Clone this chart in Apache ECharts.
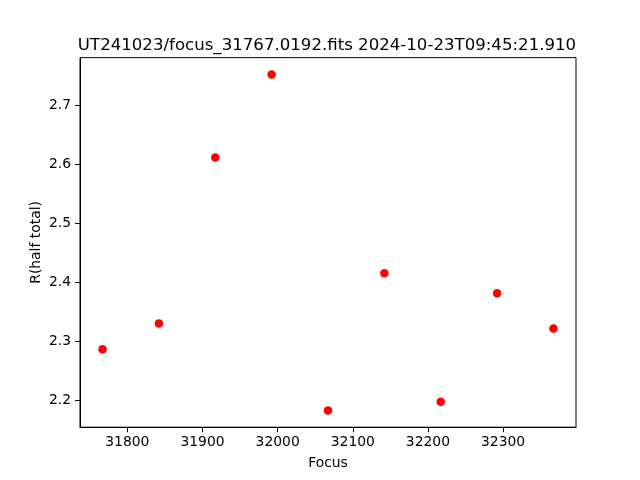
<!DOCTYPE html>
<html>
<head>
<meta charset="utf-8">
<script src="https://cdn.jsdelivr.net/npm/echarts@6/dist/echarts.min.js"></script>
<style>html,body{margin:0;padding:0;background:#fff}#c{width:640px;height:480px}</style>
</head>
<body>
<div id="c"></div>
<script>
const focusValues = [31767, 31842, 31917, 31992, 32067, 32142, 32217, 32292, 32367];
const radiusValues = [2.286, 2.330, 2.611, 2.752, 2.1825, 2.415, 2.197, 2.381, 2.3215];
const xTicks = [31800, 31900, 32000, 32100, 32200, 32300];
const yTicks = [2.2, 2.3, 2.4, 2.5, 2.6, 2.7];
const titleText = 'UT241023/focus_31767.0192.fits 2024-10-23T09:45:21.910';

function padRange(arr) {
  const lo = Math.min(...arr), hi = Math.max(...arr), r = hi - lo;
  return [lo - 0.05 * r, hi + 0.05 * r];
}
const xr = padRange(focusValues), yr = padRange(radiusValues);
const font = 'DejaVu Sans';
const chart = echarts.init(document.getElementById('c'), null, {renderer: 'canvas'});
chart.setOption({
  animation: false,
  backgroundColor: '#fff',
  title: {
    text: titleText, left: 322, top: 32, textAlign: 'center',
    textStyle: {fontFamily: font, fontSize: 16.6, fontWeight: 'normal', color: '#000'}
  },
  grid: {left: 80, right: 64, top: 57.6, bottom: 52.8, show: true, borderColor: '#000', borderWidth: 1, backgroundColor: 'transparent'},
  xAxis: {
    type: 'value', min: xr[0], max: xr[1],
    name: 'Focus', nameLocation: 'middle', nameGap: 29,
    nameTextStyle: {fontFamily: font, fontSize: 13.9, color: '#000'},
    axisLine: {show: true, lineStyle: {color: '#000', width: 1}},
    axisTick: {show: true, inside: false, length: 5, lineStyle: {color: '#000', width: 1}, customValues: xTicks},
    axisLabel: {fontFamily: font, fontSize: 13.9, color: '#000', margin: 8, customValues: xTicks,
      formatter: v => String(v)},
    splitLine: {show: false}
  },
  yAxis: {
    type: 'value', min: yr[0], max: yr[1],
    name: 'R(half total)', nameLocation: 'middle', nameGap: 37, nameRotate: 90, nameMoveOverlap: false,
    nameTextStyle: {fontFamily: font, fontSize: 13.9, color: '#000'},
    axisLine: {show: true, lineStyle: {color: '#000', width: 1}},
    axisTick: {show: true, inside: false, length: 5, lineStyle: {color: '#000', width: 1}, customValues: yTicks},
    axisLabel: {fontFamily: font, fontSize: 13.9, color: '#000', margin: 9, customValues: yTicks,
      formatter: v => v.toFixed(1)},
    splitLine: {show: false}
  },
  series: [{
    type: 'scatter', symbol: 'circle', symbolSize: 8.5,
    itemStyle: {color: '#ff0000', opacity: 1},
    data: focusValues.map((x, i) => [x, radiusValues[i]])
  }]
});
</script>
</body>
</html>
